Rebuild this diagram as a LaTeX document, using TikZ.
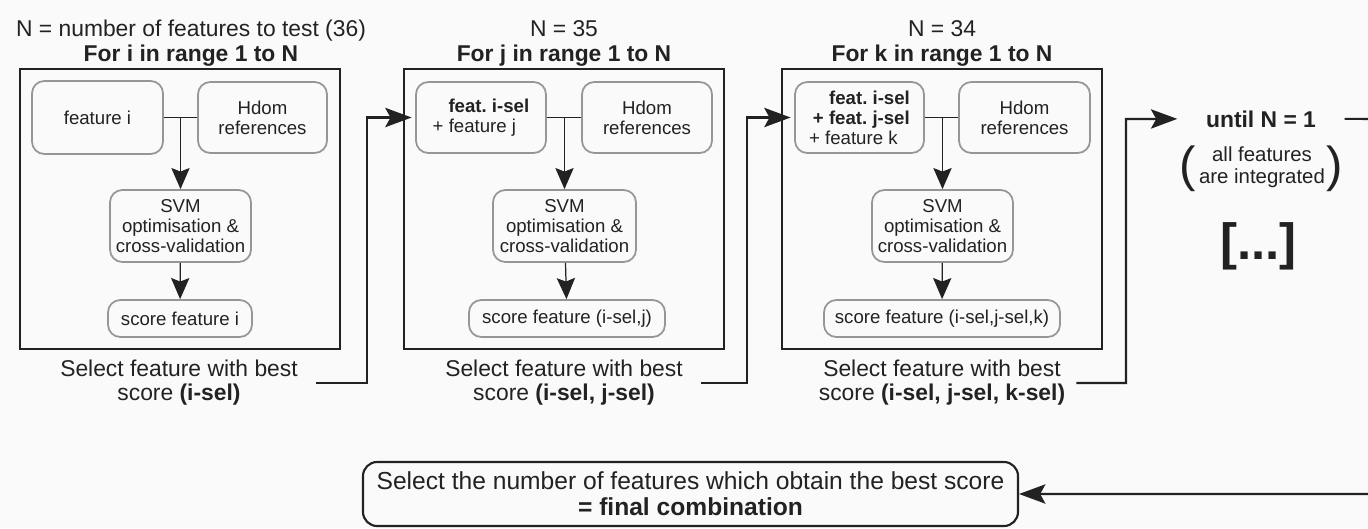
\documentclass[tikz,border=0pt]{standalone}
\usepackage{fontspec}
\setmainfont{Liberation Sans}
\usetikzlibrary{arrows.meta}
\definecolor{ink}{RGB}{34,34,34}
\definecolor{rim}{RGB}{150,150,150}
\definecolor{paper}{RGB}{250,250,250}
\frenchspacing

\begin{document}
\begin{tikzpicture}[x=1cm,y=-1cm,
  every node/.style={text=ink,inner sep=0pt},
  head/.style={anchor=base,font=\fontsize{6.5}{7}\selectfont},
  headb/.style={anchor=base,font=\fontsize{6.5}{7}\selectfont\bfseries},
  loopbox/.style={draw=ink,line width=0.6pt,minimum width=3.2cm,minimum height=2.8cm},
  cell/.style={draw=rim,line width=0.5pt,rounded corners=3.5pt,align=center,
    font=\fontsize{5.3}{5.7}\selectfont},
  pick/.style={align=center,font=\fontsize{6.5}{6.8}\selectfont},
  flow/.style={draw=ink,line width=0.6pt,-{Stealth[length=7.5pt,width=5.5pt,inset=1.5pt]}},
  feed/.style={draw=ink,line width=0.35pt,-{Stealth[length=6pt,width=5.2pt,inset=1pt]}}]
  \fill[paper] (0,0) rectangle (13.68,5.28);
  \useasboundingbox (0,0) rectangle (13.68,5.28);

  % first pass: every feature alone
  \node[loopbox] (box1) at (1.80,2.09) {};
  \node[head] (n1) at (1.91,0.36) {N = number of features to test (36)};
  \node[headb] (for1) at (1.91,0.61) {For i in range 1 to N};
  \node[cell,minimum width=1.31cm,minimum height=0.73cm] (f1) at (0.975,1.175) {feature i};
  \node[cell,minimum width=1.29cm,minimum height=0.71cm] (h1) at (2.625,1.175) {Hdom\\references};
  \node[cell,minimum width=1.41cm,minimum height=0.72cm] (svm1) at (1.805,2.26) {SVM\\optimisation \&\\cross-validation};
  \node[cell,minimum width=1.44cm,minimum height=0.37cm] (sc1) at (1.80,3.185) {score feature i};
  \node[pick] (sel1) at (1.79,3.83) {Select feature with best\\score \textbf{(i-sel)}};
  \draw[ink,line width=0.35pt] (f1.east) -- (h1.west);
  \draw[feed] (svm1.north |- f1.east) -- (svm1.north);
  \draw[feed] (svm1) -- (sc1);

  % second pass
  \node[loopbox] (box2) at (5.64,2.09) {};
  \node[head] (n2) at (5.64,0.36) {N = 35};
  \node[headb] (for2) at (5.64,0.61) {For j in range 1 to N};
  \node[cell,align=left,minimum width=1.30cm,minimum height=0.71cm] (f2) at (4.81,1.175)
    {\hspace*{4.5pt}\textbf{feat. i-sel}\\+ feature j};
  \node[cell,minimum width=1.30cm,minimum height=0.71cm] (h2) at (6.47,1.175) {Hdom\\references};
  \node[cell,minimum width=1.43cm,minimum height=0.72cm] (svm2) at (5.645,2.26) {SVM\\optimisation \&\\cross-validation};
  \node[cell,minimum width=1.96cm,minimum height=0.37cm] (sc2) at (5.67,3.185) {score feature (i-sel,j)};
  \node[pick] (sel2) at (5.64,3.83) {Select feature with best\\score \textbf{(i-sel, j-sel)}};
  \draw[ink,line width=0.35pt] (f2.east) -- (h2.west);
  \draw[feed] (svm2.north |- f2.east) -- (svm2.north);
  \draw[feed] (svm2) -- (sc2);

  % third pass
  \node[loopbox] (box3) at (9.42,2.09) {};
  \node[head] (n3) at (9.42,0.36) {N = 34};
  \node[headb] (for3) at (9.42,0.61) {For k in range 1 to N};
  \node[cell,align=left,minimum width=1.29cm,minimum height=0.71cm] (f3) at (8.595,1.175)
    {\hspace*{5.7pt}\textbf{feat. i-sel}\\\hspace*{1.1pt}\textbf{+ feat. j-sel}\\+ feature k};
  \node[cell,minimum width=1.31cm,minimum height=0.71cm] (h3) at (10.245,1.175) {Hdom\\references};
  \node[cell,minimum width=1.41cm,minimum height=0.72cm] (svm3) at (9.425,2.26) {SVM\\optimisation \&\\cross-validation};
  \node[cell,minimum width=2.36cm,minimum height=0.37cm] (sc3) at (9.42,3.185) {score feature (i-sel,j-sel,k)};
  \node[pick] (sel3) at (9.42,3.83) {Select feature with best\\score \textbf{(i-sel, j-sel, k-sel)}};
  \draw[ink,line width=0.35pt] (f3.east) -- (h3.west);
  \draw[feed] (svm3.north |- f3.east) -- (svm3.north);
  \draw[feed] (svm3) -- (sc3);

  % stop condition
  \node[headb] (until) at (12.61,1.27) {until N = 1};
  \node[font=\fontsize{14}{14}\selectfont] (lpar) at (11.88,1.685) {(};
  \node[align=center,font=\fontsize{5.8}{6.3}\selectfont] (note) at (12.62,1.67) {all features\\are integrated};
  \node[font=\fontsize{14}{14}\selectfont] (rpar) at (13.345,1.685) {)};
  \node[font=\fontsize{14.5}{15}\selectfont\bfseries] (more) at (12.585,2.46) {[...]};

  \node[draw=ink,line width=0.6pt,rounded corners=4pt,minimum width=6.55cm,minimum height=0.64cm,
    align=center,font=\fontsize{7}{7.4}\selectfont] (final) at (6.905,4.94)
    {Select the number of features which obtain the best score\\\textbf{= final combination}};

  % passes chained together
  \coordinate (k1) at (3.67,1.175);
  \coordinate (k2) at (7.47,1.175);
  \coordinate (k3) at (11.26,1.19);
  \coordinate (k4) at (13.72,1.19);
  \draw[flow,shorten >=1pt] ([xshift=5pt]sel1.east) -| (k1) -- (f2.west);
  \draw[flow,shorten >=1pt] ([xshift=5pt]sel2.east) -| (k2) -- (f3.west);
  \draw[flow,shorten >=8pt] ([xshift=3pt]sel3.east) -| (k3) -- (until.west);
  \draw[flow] ([xshift=8pt]until.east) -- (k4) |- (final.east);
\end{tikzpicture}
\end{document}
